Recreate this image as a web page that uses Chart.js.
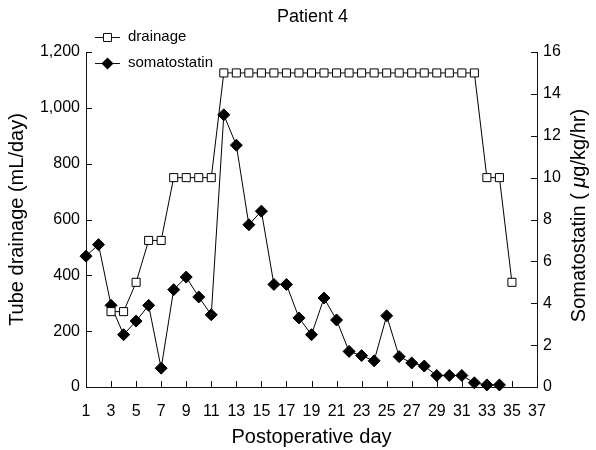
<!DOCTYPE html>
<html>
<head>
<meta charset="utf-8">
<script src="https://cdn.jsdelivr.net/npm/chart.js@4.4.0/dist/chart.umd.min.js"></script>
<style>
    html, body { margin: 0; padding: 0; background: #fff; }
    #wrap { width: 596px; height: 450px; }
</style>
</head>
<body>
<div id="wrap"><canvas id="patient-chart" width="596" height="450"></canvas></div>
<script>
// Tube drainage (mL/day), left axis
const drainageDays = [3, 4, 5, 6, 7, 8, 9, 10, 11, 12, 13, 14, 15, 16, 17, 18, 19, 20, 21, 22,
    23, 24, 25, 26, 27, 28, 29, 30, 31, 32, 33, 34, 35];
const drainageValues = [270, 270, 375, 525, 525, 750, 750, 750, 750, 1125, 1125, 1125, 1125, 1125, 1125, 1125, 1125, 1125, 1125, 1125,
    1125, 1125, 1125, 1125, 1125, 1125, 1125, 1125, 1125, 1125, 750, 750, 375];

// Somatostatin (ug/kg/hr), right axis
const somatostatinDays = [1, 2, 3, 4, 5, 6, 7, 8, 9, 10, 11, 12, 13, 14, 15, 16, 17, 18, 19, 20,
    21, 22, 23, 24, 25, 26, 27, 28, 29, 30, 31, 32, 33, 34];
const somatostatinValues = [6.25, 6.8, 3.9, 2.5, 3.15, 3.9, 0.9, 4.65, 5.25, 4.3, 3.45, 13, 11.55, 7.75, 8.4, 4.9, 4.9, 3.3, 2.5, 4.25,
    3.2, 1.7, 1.5, 1.25, 3.4, 1.45, 1.15, 1.0, 0.55, 0.55, 0.55, 0.2, 0.1, 0.1];

const chartTitle = 'Patient 4';

const FONT = "'Liberation Sans', Arial, Helvetica, sans-serif";
Chart.defaults.font.family = FONT;
Chart.defaults.color = '#000';

const toPoints = (xs, ys) => xs.map((d, i) => ({ x: d, y: ys[i] }));

// ticks drawn inside the plot, title, legend in the corner, right title reading upwards
const overlayPlugin = {
    id: 'overlay',
    afterDraw(chart) {
        const ctx = chart.ctx;
        const { x, y, y1 } = chart.scales;
        const area = chart.chartArea;
        ctx.save();
        ctx.strokeStyle = '#111';
        ctx.lineWidth = 1;
        ctx.beginPath();
        x.ticks.forEach(t => {
            const px = Math.round(x.getPixelForValue(t.value)) + 0.5;
            ctx.moveTo(px, area.bottom);
            ctx.lineTo(px, area.bottom - 6);
        });
        y.ticks.forEach(t => {
            const py = Math.round(y.getPixelForValue(t.value)) + 0.5;
            ctx.moveTo(area.left, py);
            ctx.lineTo(area.left + 6, py);
        });
        y1.ticks.forEach(t => {
            const py = Math.round(y1.getPixelForValue(t.value)) + 0.5;
            ctx.moveTo(area.right, py);
            ctx.lineTo(area.right - 6, py);
        });
        ctx.stroke();

        // title
        ctx.fillStyle = '#000';
        ctx.font = '18px ' + FONT;
        ctx.textAlign = 'center';
        ctx.textBaseline = 'middle';
        ctx.fillText(chartTitle, (area.left + area.right) / 2 + 1, 17);

        // legend
        const rows = [37, 63];
        ctx.font = '15px ' + FONT;
        ctx.textAlign = 'left';
        chart.data.datasets.forEach((ds, i) => {
            const ly = rows[i] + 0.5;
            ctx.beginPath();
            ctx.moveTo(95, ly);
            ctx.lineTo(120, ly);
            ctx.stroke();
            ctx.beginPath();
            if (ds.pointStyle === 'rect') {
                ctx.rect(103.5, ly - 4, 8, 8);
                ctx.fillStyle = '#fff';
                ctx.fill();
                ctx.stroke();
            } else {
                ctx.moveTo(107.5, ly - 6);
                ctx.lineTo(113.5, ly);
                ctx.lineTo(107.5, ly + 6);
                ctx.lineTo(101.5, ly);
                ctx.closePath();
                ctx.fillStyle = '#000';
                ctx.fill();
            }
            ctx.fillStyle = '#000';
            ctx.fillText(ds.label, 128, rows[i]);
        });

        // right axis title, bottom-to-top with italic mu
        const parts = [
            { text: 'Somatostatin ( ', font: '20px ' + FONT },
            { text: '\u03bc', font: 'italic 20px ' + FONT },
            { text: 'g/kg/hr)', font: '20px ' + FONT }
        ];
        let total = 0;
        parts.forEach(p => { ctx.font = p.font; p.w = ctx.measureText(p.text).width; total += p.w; });
        ctx.translate(579, (area.top + area.bottom) / 2 - 4);
        ctx.rotate(-Math.PI / 2);
        let cx = -total / 2;
        parts.forEach(p => {
            ctx.font = p.font;
            ctx.fillText(p.text, cx, 0);
            cx += p.w;
        });
        ctx.restore();
    }
};

const ctx = document.getElementById('patient-chart').getContext('2d');
new Chart(ctx, {
    type: 'line',
    data: {
        datasets: [{
            label: 'drainage',
            data: toPoints(drainageDays, drainageValues),
            yAxisID: 'y',
            borderColor: '#000',
            borderWidth: 1,
            pointStyle: 'rect',
            pointRadius: 5.7,
            pointBackgroundColor: '#fff',
            pointBorderColor: '#000',
            pointBorderWidth: 1,
            tension: 0,
            clip: false
        }, {
            label: 'somatostatin',
            data: toPoints(somatostatinDays, somatostatinValues),
            yAxisID: 'y1',
            borderColor: '#000',
            borderWidth: 1,
            pointStyle: 'rectRot',
            pointRadius: 6,
            pointBackgroundColor: '#000',
            pointBorderColor: '#000',
            pointBorderWidth: 1,
            tension: 0,
            clip: false
        }]
    },
    options: {
        responsive: false,
        animation: false,
        layout: { padding: { top: 52, left: 0, right: 0, bottom: 0 } },
        plugins: {
            legend: { display: false },
            tooltip: { enabled: false },
            title: { display: false }
        },
        scales: {
            x: {
                type: 'linear',
                min: 1,
                max: 37,
                afterFit: scale => { scale.height = 63; },
                ticks: { stepSize: 2, font: { size: 16 }, padding: 15, maxRotation: 0 },
                grid: { display: false, drawTicks: false },
                border: { display: true, color: '#111', width: 1 },
                title: {
                    display: true,
                    text: 'Postoperative day',
                    font: { size: 20 },
                    padding: { top: 0, bottom: 1 }
                }
            },
            y: {
                position: 'left',
                min: 0,
                max: 1200,
                afterFit: scale => { scale.width = 86; },
                ticks: { stepSize: 200, font: { size: 16 }, padding: 6 },
                grid: { display: false, drawTicks: false },
                border: { display: true, color: '#111', width: 1 },
                title: {
                    display: true,
                    text: 'Tube drainage (mL/day)',
                    font: { size: 20 },
                    padding: { top: 5, bottom: 0 }
                }
            },
            y1: {
                position: 'right',
                min: 0,
                max: 16,
                afterFit: scale => { scale.width = 59; },
                ticks: { stepSize: 2, font: { size: 16 }, padding: 6 },
                grid: { display: false, drawTicks: false },
                border: { display: true, color: '#111', width: 1 }
            }
        }
    },
    plugins: [overlayPlugin]
});
</script>
</body>
</html>
